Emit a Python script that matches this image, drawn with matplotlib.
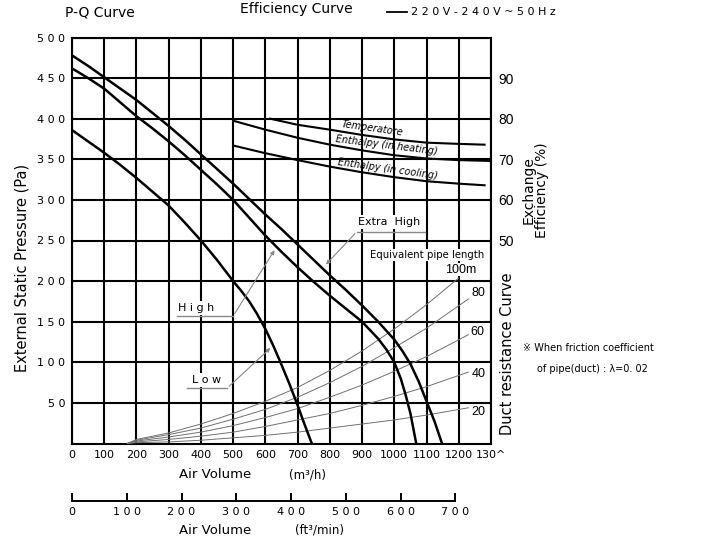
import matplotlib
matplotlib.use("Agg")
import matplotlib.pyplot as plt

# ---------------- data ----------------
# P-Q fan curves: air volume (m3/h) vs external static pressure (Pa)
eh_q = [0, 50, 100, 150, 200, 250, 300, 350, 400, 450, 500, 550, 600, 650, 700, 750,
        800, 850, 900, 950, 1000, 1025, 1050, 1075, 1100, 1125, 1148]
eh_p = [478, 465, 451, 437, 423, 407, 391, 374, 356, 338, 320, 301, 282, 264, 245, 226,
        207, 189, 170, 150, 128, 114, 98, 77, 52, 27, 0]
hi_q = [0, 50, 100, 150, 200, 250, 300, 350, 400, 450, 500, 550, 600, 650, 700, 750,
        800, 850, 900, 950, 975, 1000, 1020, 1035, 1050, 1068]
hi_p = [462, 450, 437, 420, 403, 388, 372, 355, 337, 319, 300, 278, 256, 236, 217, 199,
        182, 166, 150, 129, 116, 100, 80, 60, 37, 0]
lo_q = [0, 50, 100, 150, 200, 250, 300, 350, 400, 450, 500, 525, 550, 575, 600, 625,
        650, 675, 700, 722, 744]
lo_p = [386, 372, 358, 343, 327, 310, 293, 272, 250, 226, 200, 188, 175, 159, 141, 120,
        97, 73, 47, 23, 0]

# exchange efficiency curves (%)
temp_q = [615, 700, 800, 900, 1000, 1100, 1200, 1280]
temp_e = [80.0, 78.5, 77.3, 76.0, 74.9, 74.1, 73.8, 73.6]
heat_q = [500, 600, 700, 800, 900, 1000, 1100, 1200, 1297]
heat_e = [79.5, 77.3, 75.3, 73.6, 72.2, 71.0, 70.2, 69.8, 69.6]
cool_q = [500, 600, 700, 800, 900, 1000, 1100, 1200, 1280]
cool_e = [73.4, 71.5, 69.8, 68.2, 66.8, 65.6, 64.6, 64.0, 63.6]

# duct resistance curves (equivalent pipe length)
duct_q = [172, 200, 300, 400, 500, 600, 700, 800, 900, 1000, 1100, 1230]
duct_100_q = [172, 200, 300, 400, 500, 600, 700, 800, 900, 1000, 1100, 1200]
duct_100 = [0, 5, 13, 24, 37, 52, 69, 90, 114, 141, 171, 204]
duct_80 = [0, 4, 11, 19, 30, 42, 57, 75, 95, 118, 142, 178]
duct_60 = [0, 3, 8, 14, 22, 32, 43, 57, 72, 89, 107, 134]
duct_40 = [0, 2, 5, 9, 14, 21, 29, 37, 47, 58, 70, 88]
duct_20 = [0, 1, 2, 4, 7, 10, 14, 19, 24, 29, 35, 44]
duct_labels = ["100m", "80", "60", "40", "20"]

x_ticks = [0, 100, 200, 300, 400, 500, 600, 700, 800, 900, 1000, 1100, 1200, 1300]
x_ticklabels = ["0", "100", "200", "300", "400", "500", "600", "700", "800",
                "900", "1000", "1100", "1200", "130^"]
y_ticks = [50, 100, 150, 200, 250, 300, 350, 400, 450, 500]
y_ticklabels = ["5 0", "1 0 0", "1 5 0", "2 0 0", "2 5 0", "3 0 0", "3 5 0",
                "4 0 0", "4 5 0", "5 0 0"]
e_ticks = [50, 60, 70, 80, 90]
ft_ticks = [0, 100, 200, 300, 400, 500, 600, 700]
ft_ticklabels = ["0", "1 0 0", "2 0 0", "3 0 0", "4 0 0", "5 0 0", "6 0 0", "7 0 0"]
FT_PER_M3H = 0.5886

# ---------------- figure ----------------
W, H = 718, 540
fig = plt.figure(figsize=(W / 100, H / 100), dpi=100)
fam = ["DejaVu Sans", "Noto Sans CJK JP"]

L, R, T, B = 72, 491, 37.5, 443.5
ax = fig.add_axes([L / W, 1 - B / H, (R - L) / W, (B - T) / H])
ax.set_xlim(0, 1300)
ax.set_ylim(0, 500)
ax.set_xticks(x_ticks)
ax.set_xticklabels(x_ticklabels, fontsize=8, family=fam)
ax.set_yticks(y_ticks)
ax.set_yticklabels(y_ticklabels, fontsize=8, family=fam)
ax.tick_params(length=0, pad=5)
ax.grid(True, color="black", lw=1.5)
for s in ax.spines.values():
    s.set_linewidth(1.5)
ax.set_axisbelow(True)

# efficiency axis (right)
axe = ax.twinx()
axe.set_ylim(0, 100)
axe.set_yticks(e_ticks)
axe.set_yticklabels([str(v) for v in e_ticks], fontsize=10, family="Liberation Sans")
axe.tick_params(length=0, pad=5)
for s in axe.spines.values():
    s.set_visible(False)

# duct resistance
dcol = "#707070"
for qq, pp in [(duct_100_q, duct_100), (duct_q, duct_80), (duct_q, duct_60),
               (duct_q, duct_40), (duct_q, duct_20)]:
    ax.plot(qq, pp, color=dcol, lw=0.7, zorder=3)

# fan curves
for qq, pp in [(eh_q, eh_p), (hi_q, hi_p), (lo_q, lo_p)]:
    ax.plot(qq, pp, color="black", lw=1.8, zorder=4, solid_joinstyle="round")

# efficiency curves
for qq, ee in [(temp_q, temp_e), (heat_q, heat_e), (cool_q, cool_e)]:
    axe.plot(qq, ee, color="black", lw=1.5, zorder=4, solid_joinstyle="round")

# labels on efficiency curves
itf = dict(fontsize=7, family=fam, style="italic", ha="center", va="center")
axe.text(930, 77.6, "Temperatore", rotation=-8, **itf)
axe.text(975, 73.4, "Enthalpy (in heating)", rotation=-7, **itf)
axe.text(980, 67.6, "Enthalpy (in cooling)", rotation=-8, **itf)

# fan curve labels with leaders
wb = dict(facecolor="white", edgecolor="none", pad=1.5)
lab = dict(fontsize=8, family=fam, ha="center", va="center", zorder=6, bbox=wb)
ax.text(985, 273, "Extra  High", **lab)
ax.text(385, 167, "H i g h", **lab)
ax.text(419, 78, "L o w", **lab)
gcol = "#888888"
ax.plot([884, 1095], [261, 261], color=gcol, lw=1.0, zorder=6)
ax.plot([326, 500], [157, 157], color=gcol, lw=1.0, zorder=6)
ax.plot([357, 481], [68, 68], color=gcol, lw=1.0, zorder=6)
arr = dict(arrowstyle="-|>", color=gcol, lw=0.8, mutation_scale=6)
ax.annotate("", xy=(782, 218), xytext=(884, 261), arrowprops=arr, zorder=6)
ax.annotate("", xy=(633, 241), xytext=(500, 157), arrowprops=arr, zorder=6)
ax.annotate("", xy=(622, 120), xytext=(481, 68), arrowprops=arr, zorder=6)

# duct labels
ax.text(1101, 232, "Equivalent pipe length", fontsize=7.3, family=fam,
        ha="center", va="center", zorder=6,
        bbox=dict(facecolor="white", edgecolor="none", pad=0.8))
dl = dict(fontsize=9, family="Liberation Sans", ha="center", va="center", zorder=6,
          bbox=dict(facecolor="white", edgecolor="none", pad=0.5))
ax.text(1207, 214, duct_labels[0], **dl)
ax.text(1262, 185, duct_labels[1], **dl)
ax.text(1258, 137, duct_labels[2], **dl)
ax.text(1262, 86, duct_labels[3], **dl)
ax.text(1262, 39, duct_labels[4], **dl)

# second x-axis (ft3/min)
ax_w = (R - L) / W
axf = fig.add_axes([L / W, 1 - 501 / H, ax_w * (700 / FT_PER_M3H) / 1300, 0.0001])
axf.set_xlim(0, 700)
axf.set_ylim(0, 1)
axf.set_xticks(ft_ticks)
axf.set_xticklabels(ft_ticklabels, fontsize=8, family=fam)
axf.set_yticks([])
for k in ("top", "left", "right"):
    axf.spines[k].set_visible(False)
axf.spines["bottom"].set_linewidth(1.4)
axf.tick_params(axis="x", direction="in", length=6, width=1.4, pad=4)
axf.patch.set_visible(False)


def fx(px):
    return px / W


def fy(py):
    return 1 - py / H


# axis titles
fig.text(fx(215), fy(475), "Air Volume", fontsize=9.5, family=fam, ha="center", va="center")
fig.text(fx(308), fy(475), "(m³/h)", fontsize=8.5, family=fam, ha="center", va="center")
fig.text(fx(215), fy(530), "Air Volume", fontsize=9.5, family=fam, ha="center", va="center")
fig.text(fx(320), fy(530), "(ft³/min)", fontsize=8.5, family=fam, ha="center", va="center")
fig.text(fx(22), fy(268), "External Static Pressure (Pa)", fontsize=10.5, family=fam,
         rotation=90, ha="center", va="center")
fig.text(fx(535), fy(238), "Exchange\nEfficiency (%)", fontsize=10, family=fam,
         rotation=90, ha="center", va="bottom", linespacing=0.95)
fig.text(fx(507), fy(354), "Duct resistance Curve", fontsize=10.5, family=fam,
         rotation=90, ha="center", va="center")
fig.text(fx(523), fy(348), "※ When friction coefficient", fontsize=7, family=fam,
         ha="left", va="center")
fig.text(fx(537), fy(369), "of pipe(duct) : λ=0. 02", fontsize=7, family=fam,
         ha="left", va="center")

# header
fig.text(fx(65), fy(13), "P-Q Curve", fontsize=10, family=fam, ha="left", va="center")
fig.text(fx(240), fy(9), "Efficiency Curve", fontsize=10, family=fam, ha="left", va="center")
fig.lines.append(plt.Line2D([fx(387), fx(407)], [fy(12), fy(12)], color="black", lw=1.3,
                            transform=fig.transFigure, figure=fig))
fig.text(fx(411), fy(12), "2 2 0 V - 2 4 0 V ~ 5 0 H z", fontsize=8, family=fam,
         ha="left", va="center")

fig.savefig("out.png", dpi=100)
